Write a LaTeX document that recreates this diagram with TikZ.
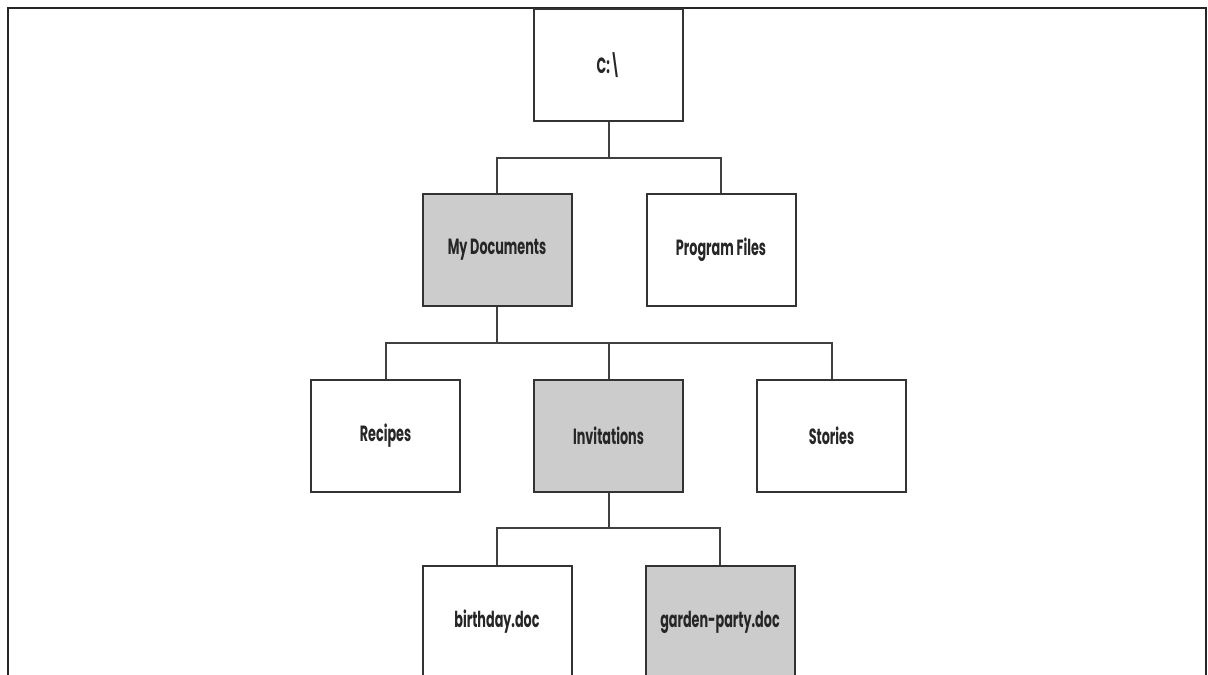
\documentclass[tikz,border=0pt]{standalone}
\usepackage{fontspec}
\newfontfamily\cartfont[FakeStretch=0.58]{Poppins}
\usepackage{xcolor}

\begin{document}
\begin{tikzpicture}[x=0.5pt, y=-0.5pt,
    cartella/.style={draw=black!80, line width=1pt, minimum width=74.5pt, minimum height=56pt,
        inner sep=0pt, font=\cartfont\bfseries\fontsize{11}{13}\selectfont, text=black!85},
    aperta/.style={cartella, fill=black!20},
    ramo/.style={black!75, line width=1pt}]
        \clip (0, 0) rectangle (1208, 674);

        % Cornice (aperta in basso)
        \draw[black!85, line width=1.3pt] (8, 680) -- (8, 8) -- (1206, 8) -- (1206, 680);

        % Radice
        \node[cartella] (root) at (608.5, 65) {C:\textbackslash};

        % Primo livello
        \node[aperta] (mydocs) at (497, 250) {My Documents};
        \node[cartella] (progfiles) at (721, 250) {Program Files};

        % Secondo livello
        \node[cartella] (recipes) at (385.5, 436) {Recipes};
        \node[aperta] (invitations) at (608.5, 436) {Invitations};
        \node[cartella] (stories) at (831.5, 436) {Stories};

        % File
        \node[cartella] (birthday) at (497, 622) {birthday.doc};
        \node[aperta] (garden) at (720, 622) {garden-party.doc};

        % Rami dell'albero
        \coordinate (bus1) at (0, 158);
        \coordinate (bus2) at (0, 343);
        \coordinate (bus3) at (0, 528);

        \draw[ramo] (root.south) -- (root.south |- bus1) -| (mydocs.north);
        \draw[ramo] (root.south |- bus1) -| (progfiles.north);

        \draw[ramo] (mydocs.south) -- (mydocs.south |- bus2) -| (recipes.north);
        \draw[ramo] (recipes.north |- bus2) -| (stories.north);
        \draw[ramo] (invitations.north |- bus2) -- (invitations.north);

        \draw[ramo] (invitations.south) -- (invitations.south |- bus3) -| (birthday.north);
        \draw[ramo] (invitations.south |- bus3) -| (garden.north);
    \end{tikzpicture}
\end{document}
